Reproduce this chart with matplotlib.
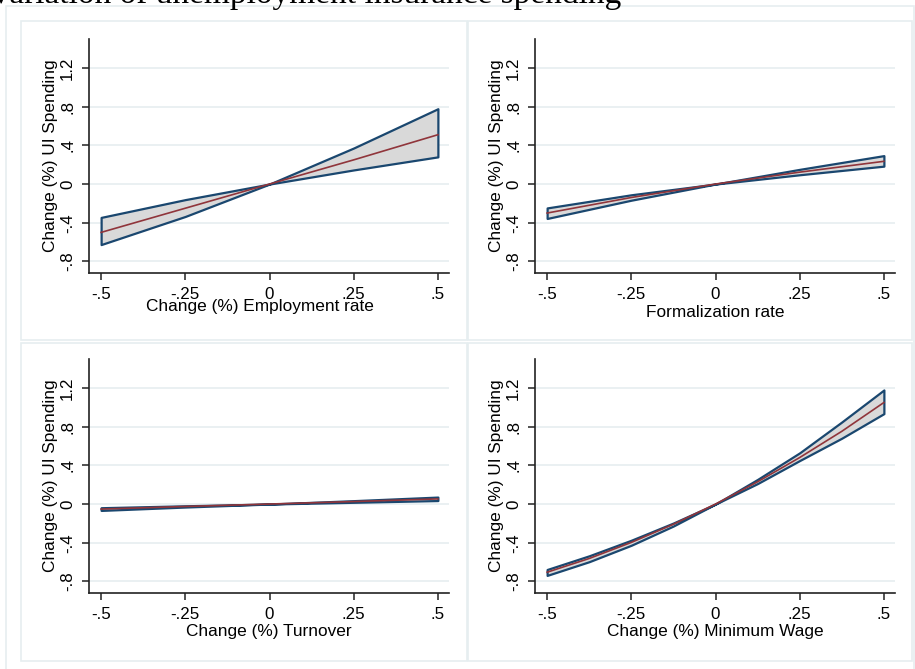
import numpy as np
import matplotlib.pyplot as plt
from matplotlib.patches import Rectangle

plt.rcParams['font.family'] = ['Liberation Sans', 'DejaVu Sans']

# x grid
x5 = [-0.5, -0.25, 0.0, 0.25, 0.5]
x9 = [-0.5, -0.375, -0.25, -0.125, 0.0, 0.125, 0.25, 0.375, 0.5]

# Employment rate
emp_mid = [-0.50, -0.25, 0.0, 0.25, 0.51]
emp_a = [-0.626, -0.335, 0.0, 0.373, 0.779]
emp_b = [-0.345, -0.161, 0.0, 0.146, 0.281]

# Formalization rate
for_mid = [-0.30, -0.139, 0.0, 0.123, 0.235]
for_a = [-0.356, -0.167, 0.0, 0.152, 0.294]
for_b = [-0.247, -0.111, 0.0, 0.096, 0.185]

# Turnover
tur_mid = [-0.052, -0.025, 0.0, 0.026, 0.053]
tur_a = [-0.066, -0.031, 0.0, 0.035, 0.072]
tur_b = [-0.038, -0.018, 0.0, 0.018, 0.036]

# Minimum wage
mw_mid = [-0.705, -0.563, -0.397, -0.209, 0.0, 0.230, 0.481, 0.752, 1.05]
mw_a = [-0.738, -0.596, -0.426, -0.227, 0.0, 0.255, 0.530, 0.849, 1.18]
mw_b = [-0.677, -0.535, -0.374, -0.196, 0.0, 0.212, 0.450, 0.681, 0.935]

xticks = [-0.5, -0.25, 0, 0.25, 0.5]
xticklabels = ['-.5', '-.25', '0', '.25', '.5']
yticks = [-0.8, -0.4, 0, 0.4, 0.8, 1.2]
yticklabels = ['-.8', '-.4', '0', '.4', '.8', '1.2']

panels = [
    (x5, emp_mid, emp_a, emp_b, 'Change (%) Employment rate', (89, 39, 449, 273), (0.474, -0.145)),
    (x5, for_mid, for_a, for_b, 'Formalization rate', (535, 39, 895, 273), (0.5, -0.167)),
    (x5, tur_mid, tur_a, tur_b, 'Change (%) Turnover', (89, 359, 449, 593), (0.5, -0.165)),
    (x9, mw_mid, mw_a, mw_b, 'Change (%) Minimum Wage', (535, 359, 895, 593), (0.5, -0.166)),
]

W, H = 915, 669
fig = plt.figure(figsize=(W / 100, H / 100), dpi=100)
fig.patch.set_facecolor('white')

frame_col = '#e6eef0'
# outer frame and the four graph boxes
fig.patches.append(Rectangle((6 / W, 1 - 680 / H), 908 / W, 674 / H, transform=fig.transFigure,
                             fill=False, edgecolor=frame_col, lw=1.2))
for (l, t, r, b) in [(21, 21, 467, 340), (468, 21, 912, 340), (21, 343, 467, 661), (468, 343, 912, 661)]:
    fig.patches.append(Rectangle((l / W, 1 - b / H), (r - l) / W, (b - t) / H, transform=fig.transFigure,
                                 fill=False, edgecolor=frame_col, lw=1.2))

# title cut off at the top edge, as in the source
fig.text(-0.012, 1 - 3 / H, 'Variation of unemployment insurance spending',
         family=['Liberation Serif', 'DejaVu Serif'], fontsize=24, va='baseline', ha='left')

for xs, mid, a, b, xlab, (l, t, r, bt), lc in panels:
    ax = fig.add_axes([l / W, 1 - bt / H, (r - l) / W, (bt - t) / H])
    ax.fill_between(xs, a, b, facecolor='#d9d9d9', edgecolor='#1a476f', lw=1.6, zorder=2)
    ax.plot(xs, mid, color='#90353b', lw=1.2, zorder=3)
    ax.set_xlim(-0.536, 0.533)
    ax.set_ylim(-0.92, 1.5)
    ax.set_xticks(xticks)
    ax.set_xticklabels(xticklabels)
    ax.set_yticks(yticks)
    ax.set_yticklabels(yticklabels, rotation=90, va='center')
    ax.grid(axis='y', color='#e6eef0', lw=1.2, zorder=0)
    ax.set_axisbelow(True)
    for s in ['top', 'right']:
        ax.spines[s].set_visible(False)
    for s in ['left', 'bottom']:
        ax.spines[s].set_color('#222222')
        ax.spines[s].set_linewidth(1.2)
    ax.tick_params(axis='both', direction='out', length=5, width=1.1, color='#222222',
                   labelsize=12.2, pad=5)
    ax.set_ylabel('Change (%) UI Spending', fontsize=12.4, va='center')
    ax.yaxis.set_label_coords(-0.106, 0.5)
    ax.set_xlabel(xlab, fontsize=12.4, va='center')
    ax.xaxis.set_label_coords(*lc)

fig.savefig('out.png', dpi=100)
